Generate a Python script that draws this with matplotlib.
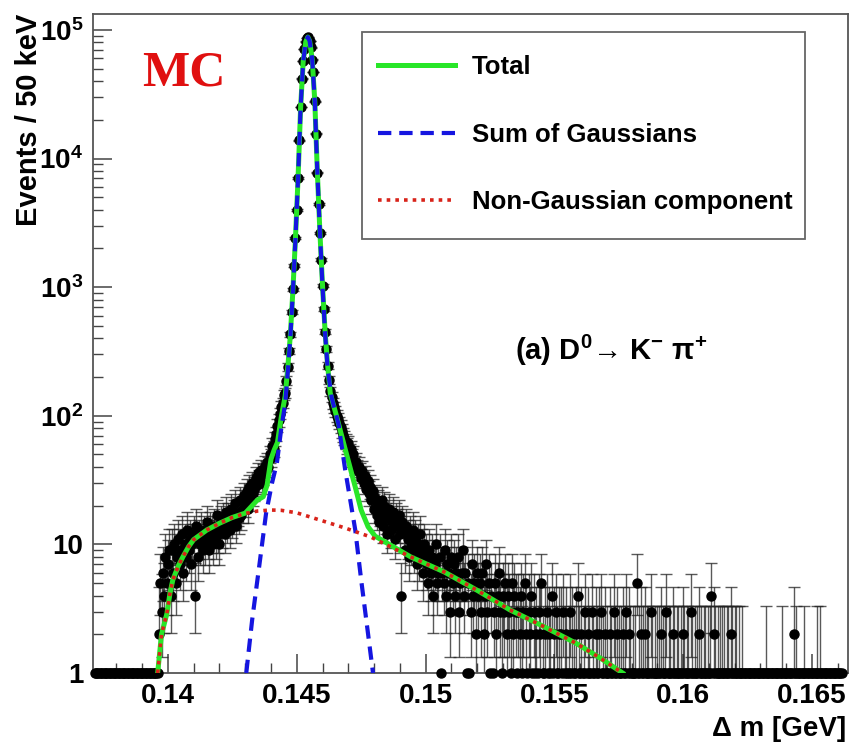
import numpy as np
import matplotlib.pyplot as plt
from matplotlib.patches import Rectangle
from matplotlib.ticker import MultipleLocator, LogLocator, NullFormatter

plt.rcParams['font.family'] = ['Liberation Sans', 'DejaVu Sans']
plt.rcParams['mathtext.fontset'] = 'custom'
plt.rcParams['mathtext.rm'] = 'Liberation Sans'
plt.rcParams['mathtext.bf'] = 'Liberation Sans:bold'
plt.rcParams['mathtext.it'] = 'Liberation Sans:italic'

# MC histogram, 50 keV bins, first bin centre at 0.13715 GeV
first_bin = 0.13715
bin_width = 0.00005

counts_below = [0] * 49
counts_threshold = [0, 2, 5, 3, 6, 4, 8, 5, 7, 9,
                    4, 9, 6, 10, 5, 8, 11, 7, 9, 12,
                    6, 10, 8, 13, 9, 11, 7, 10, 12, 4,
                    14, 8, 11, 10, 13, 9, 12, 10, 15, 11,
                    9, 13, 12, 10, 14, 11, 17, 12, 10, 15,
                    13, 16, 12, 18, 14, 16, 13, 19, 15, 17,
                    21, 14, 18, 16, 22, 17, 19]
counts_peak = [24, 21, 26, 19, 28, 23, 30, 25, 27, 33,
               29, 36, 31, 38, 30, 35, 41, 37, 44, 40,
               50, 47, 58, 55, 66, 72, 84, 92, 104, 118,
               126, 145, 150, 188, 240, 320, 430, 640, 960, 1470,
               2410, 3980, 7050, 13900, 25100, 41800, 57200, 70800, 81200, 86900,
               88100, 81800, 73200, 58800, 47200, 27900, 15600, 7780, 4420, 2640,
               1630, 1030, 680, 450, 330, 245, 190, 155, 140, 125,
               116, 108, 100, 94, 88, 82, 76, 71, 67, 63,
               58, 61, 52, 55, 47, 50, 41, 44, 38, 40]
counts_shoulder = [36, 33, 37, 30, 34, 27, 31, 25, 28, 22,
                   26, 19, 23, 17, 21, 15, 18, 22, 14, 20,
                   16, 12, 17, 19, 13, 15, 18, 11, 16, 14,
                   17, 12, 4, 15, 13, 9, 14, 11, 8, 12,
                   10, 13, 9, 11, 7, 10, 8, 12, 9, 6,
                   10, 8]
counts_tail = [7, 5, 9, 6, 8, 4, 7, 10, 5, 6,
               8, 0, 6, 5, 9, 4, 7, 6, 3, 8,
               5, 7, 4, 6, 8, 3, 5, 6, 9, 4,
               6, 0, 5, 0, 3, 7, 4, 5, 2, 6,
               4, 5, 3, 6, 2, 4, 7, 3, 5, 0,
               4, 0, 3, 5, 2, 4, 6, 3, 1, 4,
               3, 5, 2, 4, 3, 1, 5, 2, 4, 3,
               0, 3, 2, 4, 1, 3, 5, 2, 0, 3,
               2, 4, 0, 3, 1, 2, 0, 3, 2, 5,
               1, 0, 2, 3, 0, 2, 1, 4, 0, 2,
               3, 1, 0, 2, 2, 0, 3, 1, 2, 0,
               1, 3, 0, 2, 1, 0, 2, 4, 1, 0,
               2, 0, 1, 3, 0, 2, 1, 0, 3, 1,
               0, 2, 1, 0, 2, 3, 0, 1, 2, 0,
               1, 0, 2, 1, 0, 3, 1, 0, 2, 1,
               0, 1, 2, 0, 1, 3, 0, 2, 1, 0]
counts_far = [1, 0, 1, 5, 0, 1, 2, 0, 1, 2,
              0, 1, 1, 0, 3, 1, 0, 1, 0, 1,
              1, 0, 2, 1, 0, 1, 3, 0, 1, 1,
              0, 2, 1, 0, 1, 1, 0, 1, 0, 2,
              1, 0, 1, 1, 0, 3, 1, 0, 1, 0,
              1, 2, 0, 1, 0, 1, 1, 0, 1, 0,
              1, 4, 0, 2, 1, 0, 1, 0, 1, 1,
              0, 1, 0, 1, 1, 0, 2, 1, 0, 1,
              1, 0, 1, 0, 0, 1, 0, 0, 0, 0,
              0, 0, 0, 0, 0, 0, 0, 0, 0, 0,
              0, 0, 0, 1, 0, 0, 0, 0, 0, 0,
              0, 0, 0, 0, 0, 0, 1, 0, 0, 0,
              0, 0, 0, 0, 0, 2, 0, 1, 0, 0,
              0, 0, 0, 1, 0, 0, 0, 0, 0, 0,
              0, 0, 0, 1, 0, 1, 0, 0, 0, 0,
              0, 0, 0, 0, 0, 0, 0, 0, 0, 0,
              0, 0, 0]

# fit curves
total_x = [0.13960, 0.13975, 0.13996, 0.14008, 0.14019, 0.14040, 0.14058, 0.14080,
           0.14100, 0.14150, 0.14200, 0.14250, 0.14300, 0.14346, 0.14370, 0.14385,
           0.14400, 0.14412, 0.14425, 0.14440, 0.14455, 0.14465, 0.14475, 0.14485,
           0.14495, 0.14505, 0.14515, 0.14525, 0.14535, 0.14543, 0.14550, 0.14560,
           0.14570, 0.14580, 0.14590, 0.14600, 0.14610, 0.14620, 0.14630, 0.14654,
           0.14688, 0.14727, 0.14750, 0.14777, 0.14804, 0.14942, 0.15073, 0.15200,
           0.15327, 0.15458, 0.15585, 0.15680, 0.15765]
total_y = [1.0, 2.0, 2.9, 4.2, 5.3, 6.8, 8.0, 9.6,
           10.9, 12.9, 14.6, 16.2, 17.5, 22, 23.5, 29,
           46, 54, 62, 98, 142, 235, 420, 940,
           2400, 7000, 25000, 57000, 81000, 88000, 82000, 59000,
           28000, 7800, 2650, 1030, 450, 245, 150, 100,
           55, 28, 18.5, 13.7, 11.6, 8.0, 6.1, 4.4,
           3.1, 2.3, 1.7, 1.3, 1.0]

gaus_x = [0.14304, 0.14327, 0.14354, 0.14381, 0.14404, 0.14423, 0.14440, 0.14455,
          0.14465, 0.14475, 0.14485, 0.14495, 0.14505, 0.14515, 0.14525, 0.14535,
          0.14543, 0.14550, 0.14560, 0.14570, 0.14580, 0.14590, 0.14600, 0.14610,
          0.14620, 0.14635, 0.14662, 0.14688, 0.14727, 0.14750, 0.14777, 0.14796]
gaus_y = [1.0, 2.6, 6.7, 17.5, 30, 43, 80, 124,
          217, 402, 922, 2380, 6980, 24980, 56980, 80980,
          87980, 81980, 58980, 27980, 7785, 2635, 1015, 436,
          231, 140, 86, 38, 13, 5.3, 2.0, 1.0]

nongaus_x = [0.13960, 0.13975, 0.13996, 0.14008, 0.14019, 0.14040, 0.14058, 0.14080,
             0.14100, 0.14150, 0.14200, 0.14250, 0.14300, 0.14350, 0.14400, 0.14440,
             0.14500, 0.14558, 0.14620, 0.14688, 0.14788, 0.14942, 0.15073, 0.15200,
             0.15327, 0.15458, 0.15585, 0.15680, 0.15765]
nongaus_y = [1.0, 2.0, 2.9, 4.2, 5.3, 6.8, 8.0, 9.6,
             10.9, 12.9, 14.6, 16.2, 17.4, 18.2, 18.5, 18.4,
             17.6, 16.2, 14.8, 13.4, 11.4, 8.0, 6.1, 4.4,
             3.1, 2.3, 1.7, 1.3, 1.0]

counts = np.array(counts_below + counts_threshold + counts_peak
                  + counts_shoulder + counts_tail + counts_far, dtype=float)
centers = first_bin + bin_width * np.arange(len(counts))

# asymmetric Poisson errors, empty bins get none
filled = counts > 0
n = counts[filled]
err_lo = np.sqrt(n - 0.25)
err_hi = 1.0 + np.sqrt(n + 0.75)
# empty bins sit on the bottom of the frame
y_marker = np.where(filled, counts, 1.0)

fig = plt.figure(figsize=(8.5, 7.47), dpi=100)
ax = fig.add_axes([93 / 850, 74 / 747, 755 / 850, 659 / 747])
ax.set_yscale('log')
ax.axis([0.13709, 0.1664, 1.0, 1.33e5])

ax.errorbar(centers[filled], n, yerr=[err_lo, err_hi],
            fmt='none', ecolor='#222222', elinewidth=1.0,
            capsize=4, capthick=1.0, alpha=0.75, zorder=2)
ax.plot(centers, y_marker, 'o', ms=6.5, color='black',
        clip_on=False, zorder=3)

ax.plot(total_x, total_y, color='#28e628', lw=3.6,
        label='Total', zorder=4)
ax.plot(gaus_x, gaus_y, color='#1515e0', lw=3.0, dashes=(3.2, 1.9),
        label='Sum of Gaussians', zorder=5)
ax.plot(nongaus_x, nongaus_y, color='#d8231a', lw=2.6, dashes=(1.0, 1.4),
        label='Non-Gaussian component', zorder=6)

# axes styling
for side in ['left', 'right', 'top', 'bottom']:
    ax.spines[side].set_color('#555555')
    ax.spines[side].set_linewidth(1.3)
ax.tick_params(which='both', direction='in', top=False, right=False,
               color='#444444', labelsize=20, pad=7)
ax.tick_params(which='major', length=14, width=1.1)
ax.tick_params(which='minor', length=7, width=1.0)

ax.set_xticks([0.14, 0.145, 0.15, 0.155, 0.16, 0.165],
              labels=['0.14', '0.145', '0.15', '0.155', '0.16', '0.165'],
              fontweight='bold')
ax.xaxis.set_minor_locator(MultipleLocator(0.001))
ax.set_yticks([1, 10, 1e2, 1e3, 1e4, 1e5],
              labels=['1', '10', r'$\mathbf{10^{2}}$', r'$\mathbf{10^{3}}$',
                      r'$\mathbf{10^{4}}$', r'$\mathbf{10^{5}}$'],
              fontweight='bold')
ax.yaxis.set_minor_locator(LogLocator(base=10, subs=np.arange(2, 10)))
ax.yaxis.set_minor_formatter(NullFormatter())

ax.set_xlabel('Δ m [GeV]', fontsize=20, fontweight='bold')
ax.xaxis.label.set(ha='right', va='top')
ax.xaxis.set_label_coords(0.997, -0.066)
ax.set_ylabel('Events / 50 keV', fontsize=21, fontweight='bold')
ax.yaxis.label.set(ha='right', va='center')
ax.yaxis.set_label_coords(-0.085, 1.0)

ax.text(0.1205, 0.91, 'MC', transform=ax.transAxes, color='#e01010',
        fontsize=36, fontweight='bold', family='Liberation Serif',
        ha='center', va='center')
ax.text(0.559, 0.49, r'(a) D$^{\mathbf{0}}$→ K$^{\mathbf{-}}$ π$^{\mathbf{+}}$',
        transform=ax.transAxes, fontsize=21, fontweight='bold',
        ha='left', va='center')

# legend box drawn separately so its size can be set freely
ax.add_patch(Rectangle((0.356, 0.659), 0.587, 0.314, transform=ax.transAxes,
                       facecolor='white', edgecolor='#666666', lw=1.3,
                       zorder=7))
leg = ax.legend(loc='upper left', bbox_to_anchor=(0.3775, 0.938),
                prop={'size': 18.5, 'weight': 'bold'}, frameon=False,
                borderpad=0, borderaxespad=0, labelspacing=1.7,
                handlelength=3.0, handletextpad=0.66)
leg.set_zorder(8)

fig.savefig('out.png', dpi=100)
